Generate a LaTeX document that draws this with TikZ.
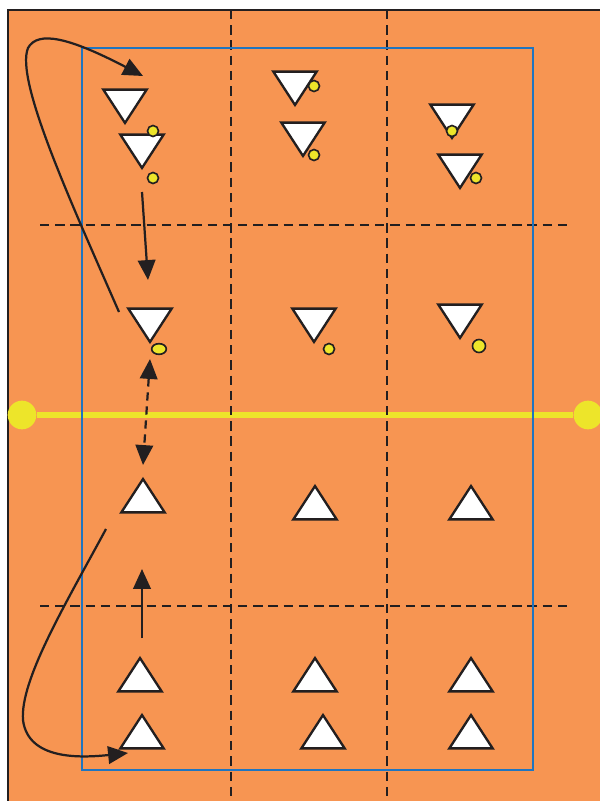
\documentclass[tikz,border=0pt]{standalone}
\usepackage{xcolor}
\definecolor{pitch}{HTML}{F79552}
\definecolor{zone}{HTML}{1F75C0}
\definecolor{yel}{HTML}{EDE52A}
\definecolor{ink}{HTML}{231F20}
\usepackage{tikz}
\usetikzlibrary{
  arrows.meta,
  positioning,
  shapes.geometric
}

\begin{document}
\begin{tikzpicture}[
  x=0.03cm, y=-0.03cm,
  conedn/.style={isosceles triangle, isosceles triangle stretches, shape border rotate=270, draw=ink, fill=white, line width=2pt, inner sep=0pt, minimum width=1.3cm, minimum height=1.0cm, anchor=apex},
  coneup/.style={conedn, shape border rotate=90},
  ballnode/.style={circle, draw=ink, fill=yel, line width=1.4pt, inner sep=0pt, minimum size=0.33cm},
  post/.style={circle, fill=yel, inner sep=0pt, minimum size=0.86cm},
  zoneline/.style={ink, line width=2pt, dash pattern=on 8pt off 5pt},
  arr/.style={-{Triangle[length=17pt, width=15pt]}, line width=1.9pt, ink},
  dblarr/.style={{Triangle[length=17pt, width=15pt]}-{Triangle[length=17pt, width=15pt]}, line width=1.9pt, ink, dash pattern=on 7pt off 5pt},
]

\useasboundingbox (0,0) rectangle (600,801);
\fill[pitch] (8,10) rectangle (600,801);
\draw[ink, line width=2pt] (8,801) -- (8,10) -- (600,10);

% halfway line
\node[post] (postL) at (22,415) {};
\node[post] (postR) at (588,415) {};
\draw[yel, line width=4.6pt] (postL) -- (postR);

% zones
\draw[zoneline] (231,10) -- (231,801);
\draw[zoneline] (387,10) -- (387,801);
\draw[zoneline] (40,225) -- (570,225);
\draw[zoneline] (40,606) -- (570,606);
\draw[zone, line width=2pt] (82,48) rectangle (533,770);

% cones
\node[conedn] (d1) at (125,126) {};
\node[conedn] (d2) at (142,171) {};
\node[conedn] (d3) at (295,108) {};
\node[conedn] (d4) at (303,159) {};
\node[conedn] (d5) at (452,141) {};
\node[conedn] (d6) at (460,191) {};
\node[conedn] (d7) at (150,345) {};
\node[conedn] (d8) at (314,345) {};
\node[conedn] (d9) at (460,341) {};

\node[coneup] (u1) at (143,476) {};
\node[coneup] (u2) at (315,483) {};
\node[coneup] (u3) at (471,483) {};
\node[coneup] (u4) at (140,655) {};
\node[coneup] (u5) at (315,655) {};
\node[coneup] (u6) at (471,655) {};
\node[coneup] (u7) at (142,712) {};
\node[coneup] (u8) at (323,712) {};
\node[coneup] (u9) at (471,712) {};

% balls
\node[ballnode] (b1) at (153,131) {};
\node[ballnode] (b2) at (153,178) {};
\node[ballnode] (b3) at (314,86) {};
\node[ballnode] (b4) at (314,155) {};
\node[ballnode] (b5) at (452,131) {};
\node[ballnode] (b6) at (476,178) {};
\node[ballnode, ellipse, minimum width=0.44cm, minimum height=0.32cm] (b7) at (159,349) {};
\node[ballnode] (b8) at (329,349) {};
\node[ballnode, minimum size=0.39cm] (b9) at (479,346) {};

% runs and passes
\coordinate (loopS) at (119,312);
\coordinate (loopE) at (143,76);
\coordinate (passS) at (142,192);
\coordinate (passE) at (148,280);
\coordinate (swapA) at (150,359);
\coordinate (swapB) at (143,465);
\coordinate (upS) at (142,638);
\coordinate (upE) at (142,569);
\coordinate (runS) at (106,529);
\coordinate (runE) at (128,753);

\draw[arr] (loopS) .. controls (70,200) and (15,80) .. (28,48) .. controls (38,30) and (70,38) .. (loopE);
\draw[arr] (passS) -- (passE);
\draw[dblarr] (swapA) -- (swapB);
\draw[arr] (upS) -- (upE);
\draw[arr] (runS) .. controls (65,605) and (20,680) .. (23,720) .. controls (28,760) and (80,758) .. (runE);

\end{tikzpicture}
\end{document}
